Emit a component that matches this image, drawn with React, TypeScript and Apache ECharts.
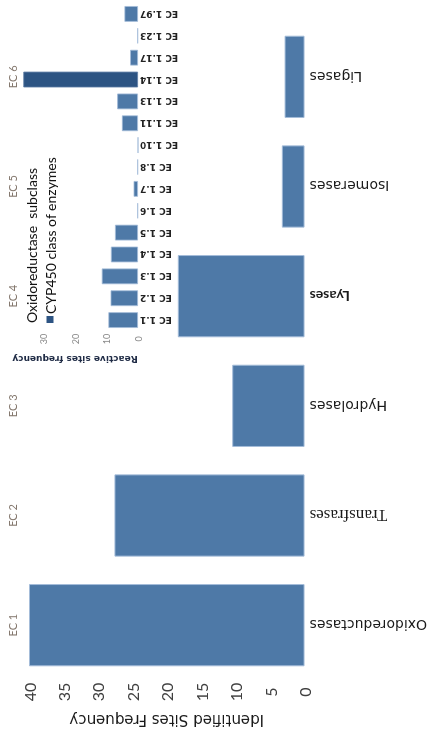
import { useEffect, useRef } from "react";
import * as echarts from "echarts";

// Enzyme classes (main bars) and their EC numbers
const enzymeClasses = ["Oxidoreductases", "Transfrases", "Hydrolases", "Lyases", "Isomerases", "Ligases"];
const ecCodes = ["EC 1", "EC 2", "EC 3", "EC 4", "EC 5", "EC 6"];
const identifiedSites = [40, 27.6, 10.5, 18.4, 3.3, 2.9];

// Oxidoreductase subclasses (inset bars)
const subclasses = [
  "EC 1.1", "EC 1.2", "EC 1.3", "EC 1.4", "EC 1.5", "EC 1.6", "EC 1.7", "EC 1.8",
  "EC 1.10", "EC 1.11", "EC 1.13", "EC 1.14", "EC 1.17", "EC 1.23", "EC 1.97",
];
const reactiveSites = [9.4, 8.7, 11.5, 8.6, 7.3, 0.2, 1.4, 0.2, 0, 5.1, 6.6, 36.4, 2.5, 0.2, 4.3];
const cypSubclass = "EC 1.14";

const legendTitle = "Oxidoreductase  subclass";
const legendItem = "CYP450 class of enzymes";

const BAR = "#4e79a7";
const BAR_BORDER = "#a4bcd9";
const CYP = "#2d5483";

// The chart is laid out as a 740x430 column chart; the container is turned
// a quarter turn counter-clockwise so it stands in a 430x740 portrait page.
const W = 740;
const H = 430;

export default function App() {
  const ref = useRef<HTMLDivElement>(null);

  useEffect(() => {
    if (!ref.current) return;
    const chart = echarts.init(ref.current, undefined, { renderer: "svg", width: W, height: H });

    const otherSites = reactiveSites.map((v, i) => (subclasses[i] === cypSubclass ? "-" : v));
    const cypSites = reactiveSites.map((v, i) => (subclasses[i] === cypSubclass ? v : "-"));

    const option = {
      animation: false,
      backgroundColor: "#ffffff",
      title: {
        text: legendTitle,
        left: 417,
        top: 24,
        padding: 0,
        textStyle: { fontFamily: "Lato", fontSize: 14, fontWeight: "normal", color: "#111111" },
      },
      legend: {
        data: [legendItem],
        left: 417,
        top: 43,
        padding: 0,
        icon: "rect",
        itemWidth: 7,
        itemHeight: 7,
        itemGap: 0,
        selectedMode: false,
        itemStyle: { color: CYP, borderWidth: 0 },
        textStyle: { fontFamily: "Lato", fontSize: 14, color: "#111111", padding: [0, 0, 0, -3] },
      },
      grid: [
        { left: 60, right: 22, top: 29, bottom: 123 },
        { left: 409, right: 3, top: 12, bottom: 292 },
      ],
      xAxis: [
        {
          type: "category",
          gridIndex: 0,
          data: enzymeClasses,
          axisLine: { show: false },
          axisTick: { show: false },
          axisLabel: {
            rotate: 90,
            margin: 5,
            interval: 0,
            fontFamily: "DejaVu Sans",
            fontSize: 14,
            color: "#1a1a1a",
            formatter: (v: string) =>
              v === "Transfrases" ? `{serif|${v}}` : v === "Lyases" ? `{heavy|${v}}` : v,
            rich: {
              serif: { fontFamily: "Liberation Serif", fontSize: 17, color: "#1a1a1a" },
              heavy: { fontFamily: "Lato", fontWeight: "bold", fontSize: 14, color: "#1a1a1a" },
            },
          },
        },
        {
          type: "category",
          gridIndex: 0,
          position: "top",
          data: ecCodes,
          axisLine: { show: false },
          axisTick: { show: false },
          axisLabel: {
            interval: 0,
            verticalAlign: "middle",
            margin: 17,
            fontFamily: "Lato",
            fontSize: 11,
            color: "#85796f",
          },
        },
        {
          type: "category",
          gridIndex: 1,
          data: subclasses,
          axisLine: { show: false },
          axisTick: { show: false },
          axisLabel: {
            rotate: 90,
            margin: 2,
            interval: 0,
            fontFamily: "DejaVu Sans",
            fontWeight: "bold",
            fontSize: 9,
            color: "#222222",
          },
        },
      ],
      yAxis: [
        {
          type: "value",
          gridIndex: 0,
          min: 0,
          max: 40,
          interval: 5,
          name: "Identified Sites Frequency",
          nameLocation: "middle",
          nameGap: 21,
          nameRotate: 90,
          nameTextStyle: { fontFamily: "DejaVu Sans", fontSize: 15, color: "#1a1a1a" },
          axisLine: { show: false },
          axisTick: { show: false },
          splitLine: { show: false },
          axisLabel: {
            align: "center",
            margin: 12,
            fontFamily: "Lato",
            fontSize: 16,
            color: "#404040",
          },
        },
        {
          type: "value",
          gridIndex: 1,
          min: 0,
          max: 40,
          interval: 10,
          name: "Reactive sites frequency",
          nameLocation: "middle",
          nameGap: 24,
          nameRotate: 90,
          nameTextStyle: { fontFamily: "DejaVu Sans", fontWeight: "bold", fontSize: 9, color: "#1f2b45" },
          axisLine: { show: false },
          axisTick: { show: false },
          splitLine: { show: false },
          axisLabel: {
            align: "center",
            margin: 8,
            showMaxLabel: false,
            fontFamily: "Lato",
            fontSize: 9,
            color: "#888888",
          },
        },
      ],
      series: [
        {
          type: "bar",
          name: "Enzyme classes",
          xAxisIndex: 0,
          yAxisIndex: 0,
          data: identifiedSites,
          barCategoryGap: "25%",
          itemStyle: { color: BAR, borderColor: BAR_BORDER, borderWidth: 1 },
        },
        {
          type: "bar",
          name: "Oxidoreductase subclasses",
          xAxisIndex: 2,
          yAxisIndex: 1,
          data: otherSites,
          barGap: "-100%",
          barCategoryGap: "28%",
          itemStyle: { color: BAR, borderColor: BAR_BORDER, borderWidth: 0.8 },
        },
        {
          type: "bar",
          name: legendItem,
          xAxisIndex: 2,
          yAxisIndex: 1,
          data: cypSites,
          barGap: "-100%",
          barCategoryGap: "28%",
          itemStyle: { color: CYP, borderColor: "#5a7aa3", borderWidth: 0.8 },
        },
      ],
    };

    chart.setOption(option);
    return () => chart.dispose();
  }, []);

  return (
    <div
      ref={ref}
      style={{
        position: "fixed",
        left: 0,
        top: 0,
        width: W,
        height: H,
        background: "#ffffff",
        transformOrigin: "0 0",
        transform: `translateY(${W}px) rotate(-90deg)`,
      }}
    />
  );
}
